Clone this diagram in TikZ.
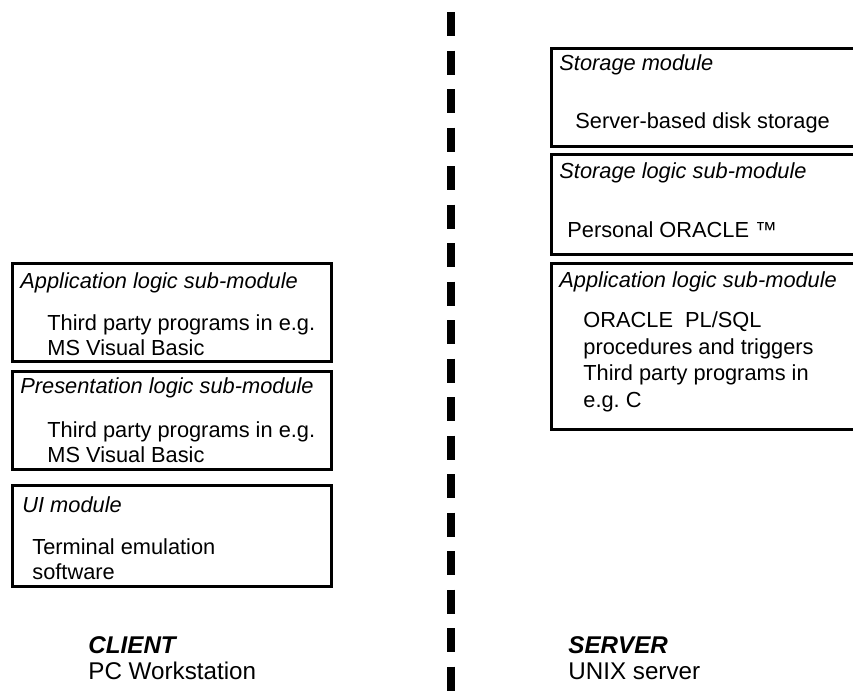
\documentclass[tikz,border=0pt]{standalone}
\usepackage{fontspec}
\setmainfont{Liberation Sans}
\usetikzlibrary{positioning}
\frenchspacing
\tikzset{
  modbox/.style={draw=black, line width=1.5pt, anchor=north west, inner sep=0pt},
  modtitle/.style={anchor=west, inner sep=0pt, font=\fontsize{10.9}{12.5}\selectfont\itshape},
  modtext/.style={anchor=west, inner sep=0pt, align=left, font=\fontsize{10.9}{12.5}\selectfont},
  sidename/.style={anchor=west, inner sep=0pt, font=\fontsize{12.1}{13}\selectfont\bfseries\itshape},
  sidetext/.style={anchor=west, inner sep=0pt, font=\fontsize{12.1}{13}\selectfont},
  divider/.style={line width=4pt, dash pattern=on 12pt off 7.25pt},
}

\begin{document}
\begin{tikzpicture}[x=0.5pt,y=-0.5pt]
  \useasboundingbox (0,0) rectangle (853,691);
  \clip (0,0) rectangle (853,691);
  % client side
  \node[modbox,minimum width=159.5pt,minimum height=49pt] (cApp) at (11,262) {};
  \node[modbox,minimum width=159.5pt,minimum height=49pt] (cPres) at (11,370) {};
  \node[modbox,minimum width=159.5pt,minimum height=50.5pt] (cUI) at (11,484) {};
  \node[modtitle] (cAppT) at (20,283) {Application logic sub-module};
  \node[modtext] (cAppB) at (47,335.5) {Third party programs in e.g.\\MS Visual Basic};
  \node[modtitle] (cPresT) at (20,388) {Presentation logic sub-module};
  \node[modtext] (cPresB) at (47,442.5) {Third party programs in e.g.\\MS Visual Basic};
  \node[modtitle] (cUIT) at (22,505) {UI module};
  \node[modtext] (cUIB) at (32,559.5) {Terminal emulation\\software};
  % server side
  \node[modbox,minimum width=160pt,minimum height=49pt] (sStore) at (550,47) {};
  \node[modbox,minimum width=160pt,minimum height=50pt] (sLogic) at (550,153) {};
  \node[modbox,minimum width=160pt,minimum height=83pt] (sApp) at (550,262) {};
  \node[modtitle] (sStoreT) at (559,65) {Storage module};
  \node[modtext] (sStoreB) at (575,123) {Server-based disk storage};
  \node[modtitle] (sLogicT) at (559,173) {Storage logic sub-module};
  \node[modtext] (sLogicB) at (567,230) {Personal ORACLE ™};
  \node[modtitle] (sAppT) at (559,282) {Application logic sub-module};
  \node[modtext,font=\fontsize{10.9}{13.3}\selectfont] (sAppB) at (583,362)
    {ORACLE\ \ PL/SQL\\procedures and triggers\\Third party programs in\\e.g. C};
  % split between the two machines
  \coordinate (divTop) at (451,12);
  \coordinate (divBot) at (451,700);
  \draw[divider] (divTop) -- (divBot);
  % machine labels
  \node[sidename] (client) at (88,645) {CLIENT};
  \node[sidetext] (clientSub) at (88,671) {PC Workstation};
  \node[sidename] (server) at (568,645) {SERVER};
  \node[sidetext] (serverSub) at (568,671) {UNIX server};
\end{tikzpicture}
\end{document}
